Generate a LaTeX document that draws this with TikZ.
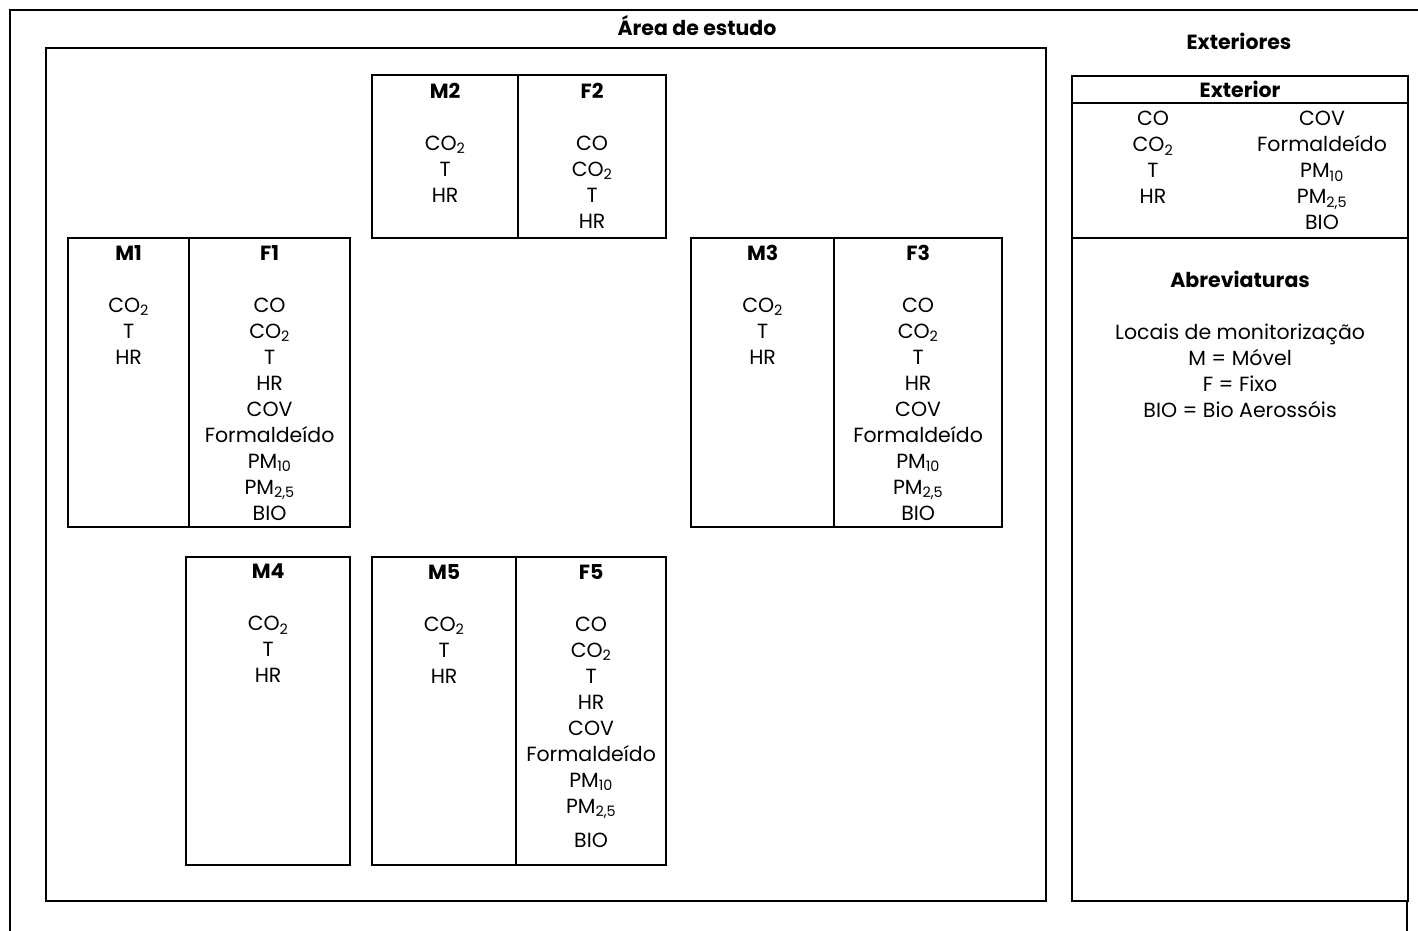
\documentclass[tikz,border=0pt]{standalone}
\usepackage{fontspec}
\setmainfont{Poppins}
\usetikzlibrary{positioning}

\newcommand{\sub}[1]{\textsubscript{#1}}
\newcommand{\shortlist}{CO\sub{2}\\T\\HR}
\newcommand{\longlist}{CO\\CO\sub{2}\\T\\HR\\COV\\Formaldeído\\PM\sub{10}\\PM\sub{2,5}\\BIO}

\tikzset{
  cell/.style={draw, line width=2.2pt, anchor=north west, inner sep=0pt},
  items/.style={align=center, inner sep=0pt, anchor=north,
    font=\fontsize{20.5}{26}\selectfont},
  heading/.style={inner sep=0pt, font=\fontsize{20.5}{24}\selectfont\bfseries},
}

\begin{document}
\begin{tikzpicture}[x=1pt, y=-1pt]
        \useasboundingbox (0,0) rectangle (1418,931);

        % outer frame
        \draw[line width=2.2pt] (1418,10) -- (10,10) -- (10,931);
        \draw[line width=2.2pt] (1407,900) -- (1407,931);

        % study area
        \node[cell, minimum width=1000, minimum height=853] (area) at (45,47) {};
        \node[heading] (areat) at (697,26) {Área de estudo};

        \node[cell, minimum width=146, minimum height=163] (M2) at (371,74) {};
        \node[cell, minimum width=148, minimum height=163] (F2) at (517,74) {};
        \node[items, below=9pt of M2.north] (M2t) {\textbf{M2}\\[26pt]\shortlist};
        \node[items, below=9pt of F2.north] (F2t) {\textbf{F2}\\[26pt]CO\\CO\sub{2}\\T\\HR};

        \node[cell, minimum width=121, minimum height=289] (M1) at (67,237) {};
        \node[cell, minimum width=161, minimum height=289] (F1) at (188,237) {};
        \node[items, below=8pt of M1.north] (M1t) {\textbf{M1}\\[26pt]\shortlist};
        \node[items, below=8pt of F1.north] (F1t) {\textbf{F1}\\[26pt]\longlist};

        \node[cell, minimum width=143, minimum height=289] (M3) at (690,237) {};
        \node[cell, minimum width=168, minimum height=289] (F3) at (833,237) {};
        \node[items, below=8pt of M3.north] (M3t) {\textbf{M3}\\[26pt]\shortlist};
        \node[items, below=8pt of F3.north] (F3t) {\textbf{F3}\\[26pt]\longlist};

        \node[cell, minimum width=164, minimum height=308] (M4) at (185,556) {};
        \node[cell, minimum width=144, minimum height=308] (M5) at (371,556) {};
        \node[cell, minimum width=150, minimum height=308] (F5) at (515,556) {};
        \node[items, below=8pt of M4.north] (M4t) {\textbf{M4}\\[26pt]\shortlist};
        \node[items, below=8pt of M5.north] (M5t) {\textbf{M5}\\[26pt]\shortlist};
        \node[items, below=8pt of F5.north] (F5t)
          {\textbf{F5}\\[26pt]CO\\CO\sub{2}\\T\\HR\\COV\\Formaldeído\\PM\sub{10}\\PM\sub{2,5}\\[8pt]BIO};

        % exterior
        \node[heading] (extt) at (1239,41) {Exteriores};
        \node[cell, minimum width=336, minimum height=27] (exthead) at (1071,75) {};
        \node[cell, minimum width=336, minimum height=135] (extlist) at (1071,102) {};
        \node[cell, minimum width=336, minimum height=663] (abrev) at (1071,237) {};
        \node[heading] (extht) at (exthead.center) {Exterior};
        \node[items] (extleft) at (1153,111) {CO\\CO\sub{2}\\T\\HR};
        \node[items] (extright) at (1322,111) {COV\\Formaldeído\\PM\sub{10}\\PM\sub{2,5}\\BIO};
        \node[items, below=34pt of abrev.north] (abrevt)
          {\textbf{Abreviaturas}\\[26pt]Locais de monitorização\\M = Móvel\\F = Fixo\\BIO = Bio Aerossóis};

        \end{tikzpicture}
\end{document}
